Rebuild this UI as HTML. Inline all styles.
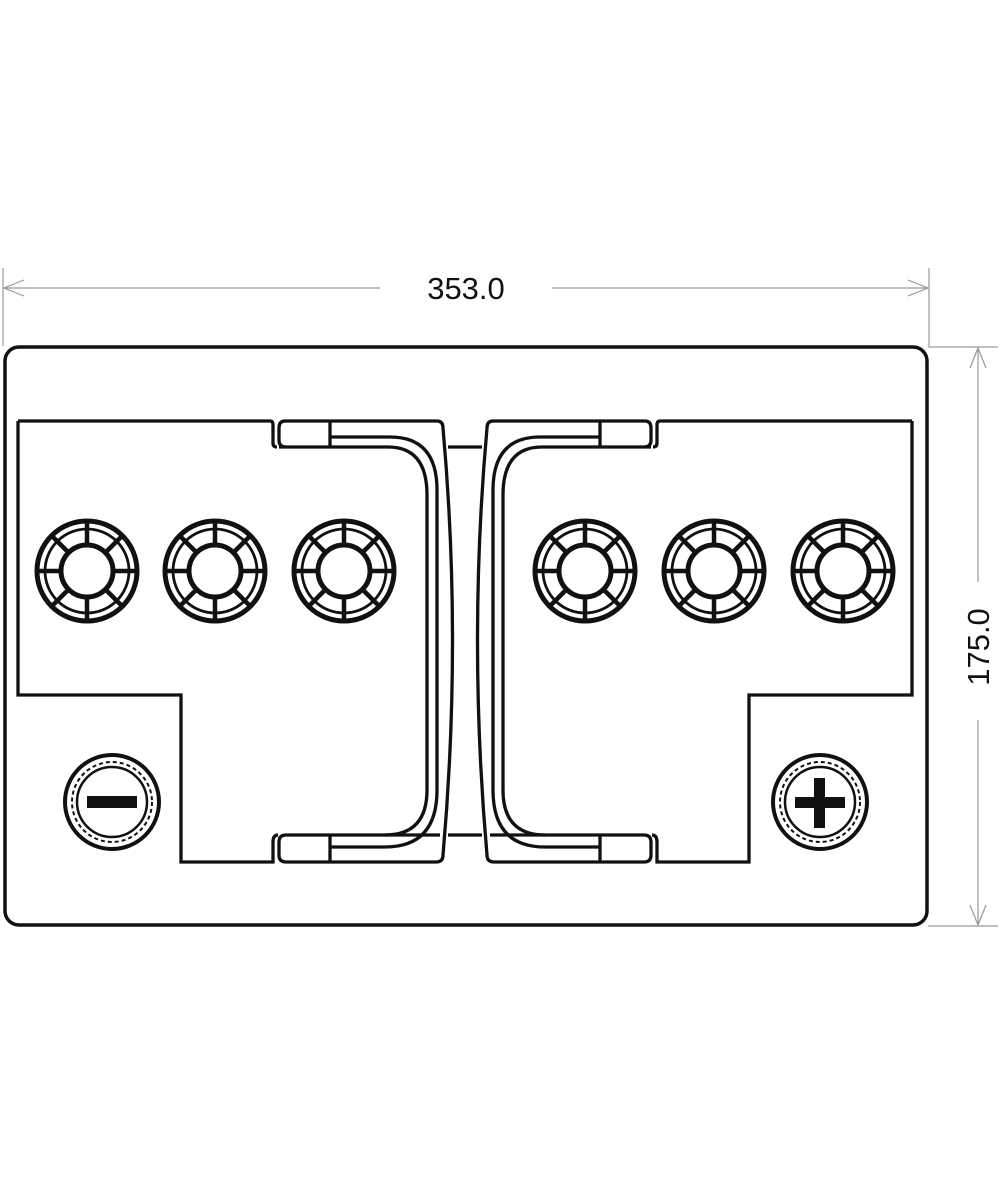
<!DOCTYPE html>
<html><head><meta charset="utf-8"><style>
html,body{margin:0;padding:0;background:#fff;}
svg{display:block;}
text{font-family:"Liberation Sans",sans-serif;fill:#111;}
</style></head><body>
<svg width="1000" height="1200" viewBox="0 0 1000 1200" xmlns="http://www.w3.org/2000/svg">
<defs>
<g id="cell">
<circle r="50" fill="none" stroke="#111" stroke-width="5"/>
<circle r="42" fill="none" stroke="#111" stroke-width="2.8"/>
<circle r="26" fill="none" stroke="#111" stroke-width="5"/>
<g stroke="#111" stroke-width="4.5">
<line x1="0" y1="-26" x2="0" y2="-50"/><line x1="0" y1="26" x2="0" y2="50"/>
<line x1="-26" y1="0" x2="-50" y2="0"/><line x1="26" y1="0" x2="50" y2="0"/>
<line x1="18.4" y1="18.4" x2="35.4" y2="35.4"/><line x1="-18.4" y1="18.4" x2="-35.4" y2="35.4"/>
<line x1="18.4" y1="-18.4" x2="35.4" y2="-35.4"/><line x1="-18.4" y1="-18.4" x2="-35.4" y2="-35.4"/>
</g>
</g>
<g id="term">
<circle r="47" fill="none" stroke="#111" stroke-width="4"/>
<circle r="40" fill="none" stroke="#111" stroke-width="2" stroke-dasharray="4 3"/>
<circle r="35" fill="none" stroke="#111" stroke-width="2.5"/>
</g>
<g id="half" fill="none" stroke="#111" stroke-width="3.3">
<path d="M18,421 H270 Q273,421 273,425 V443 Q273,447 277,447"/>
<path d="M18,421 V695 H181 V862 H273 V842 Q273,835 278,835"/>
<path d="M285,421 H437 Q443,421 443,428 Q462,640 443,855 Q443,862 436,862 H286 Q279,862 279,855 V842 Q279,835 286,835 H440"/>
<path d="M286,447 Q279,447 279,440 V428 Q279,421 285,421"/>
<line x1="330" y1="421" x2="330" y2="447"/>
<line x1="330" y1="835" x2="330" y2="862"/>
<line x1="279" y1="447" x2="330" y2="447"/>
<path d="M330,437 H390 Q437,437 437,490 V790 Q437,847 385,847 H330"/>
<path d="M330,447 H388 Q427,447 427,495 V790 Q427,835 385,835"/>
<line x1="448" y1="447" x2="465" y2="447"/>
<line x1="448" y1="835" x2="465" y2="835"/>
</g>
</defs>

<g stroke="#999" stroke-width="1.2" fill="none">
<line x1="3" y1="268" x2="3" y2="346"/>
<line x1="929" y1="268" x2="929" y2="346"/>
<line x1="3" y1="288" x2="380" y2="288"/>
<line x1="552" y1="288" x2="929" y2="288"/>
<polyline points="24,280 4,288 24,296"/>
<polyline points="908,280 928,288 908,296"/>
<line x1="928" y1="347" x2="998" y2="347"/>
<line x1="928" y1="926" x2="998" y2="926"/>
<line x1="978" y1="347" x2="978" y2="582"/>
<line x1="978" y1="720" x2="978" y2="926"/>
<polyline points="970,368 978,348 986,368"/>
<polyline points="970,905 978,925 986,905"/>
</g>
<text x="466" y="299" font-size="31" text-anchor="middle">353.0</text>
<text transform="translate(989,647) rotate(-90)" font-size="31" text-anchor="middle">175.0</text>

<rect x="5" y="347" width="922" height="578" rx="14" fill="none" stroke="#111" stroke-width="3.5"/>

<use href="#half"/>
<use href="#half" transform="translate(930,0) scale(-1,1)"/>

<use href="#cell" x="87" y="571"/>
<use href="#cell" x="215" y="571"/>
<use href="#cell" x="344" y="571"/>
<use href="#cell" x="585" y="571"/>
<use href="#cell" x="714" y="571"/>
<use href="#cell" x="843" y="571"/>

<use href="#term" x="112" y="802"/>
<rect x="87" y="796" width="50" height="12" fill="#111"/>
<use href="#term" x="820" y="802"/>
<rect x="795" y="797" width="50" height="11" fill="#111"/>
<rect x="814" y="778" width="11" height="50" fill="#111"/>
</svg>
</body></html>
